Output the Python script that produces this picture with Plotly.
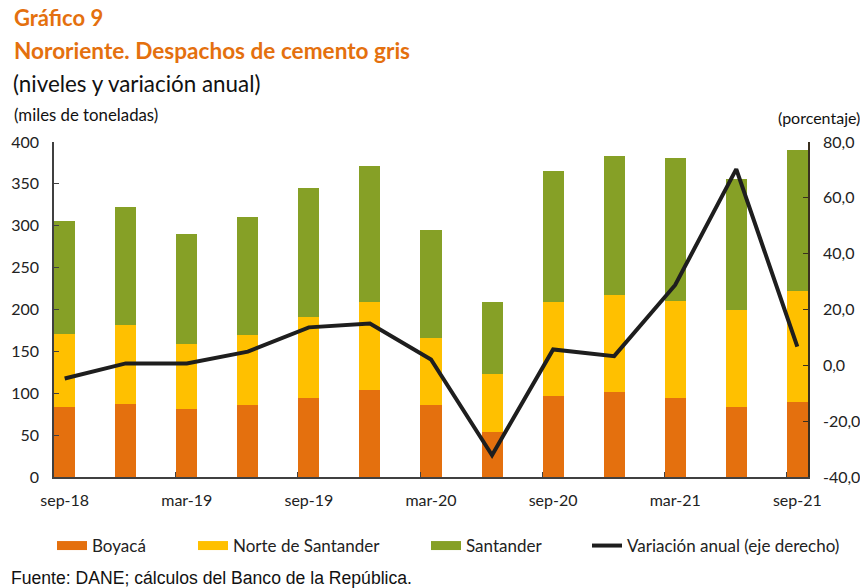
import plotly.graph_objects as go

fechas = ["sep-18", "dic-18", "mar-19", "jun-19", "sep-19", "dic-19", "mar-20",
          "jun-20", "sep-20", "dic-20", "mar-21", "jun-21", "sep-21"]
boyaca = [83.7, 87.7, 81.4, 85.7, 94.5, 104.1, 85.7, 53.8, 96.9, 101.7, 94.5, 83.7, 90.1]
norte_santander = [86.6, 93.8, 77.3, 84.2, 96.1, 104.5, 79.8, 68.6, 111.7, 116.0, 116.1, 115.7, 132.0]
santander = [135.6, 140.7, 131.6, 140.8, 154.4, 163.1, 129.6, 86.2, 156.3, 165.5, 170.3, 156.7, 167.9]
variacion = [-4.7, 0.7, 0.7, 4.9, 13.6, 15.0, 2.1, -32.2, 5.7, 3.3, 28.8, 70.3, 6.7]
etiquetas_x = ["sep-18", "mar-19", "sep-19", "mar-20", "sep-20", "mar-21", "sep-21"]
valores_der = [-40, -20, 0, 20, 40, 60, 80]
etiquetas_der = ["-40,0", "-20,0", "0,0", "20,0", "40,0", "60,0", "80,0"]

# page body has an 8px margin: compensate so that screen pixels match
OFF = 8
W, H = 868 - OFF, 588 - OFF
L, T = 54 - OFF, 142 - OFF
R = W - (808 - OFF)
B = H - (477 - OFF)
PW, PH = W - L - R, H - T - B

def px(x):
    return (x - OFF - L) / PW

def py(y):
    return (H - B - (y - OFF)) / PH

idx = list(range(len(fechas)))
naranja, amarillo, verde = "#E4700E", "#FFC000", "#86A026"
fuente = "Lato, 'Open Sans', sans-serif"

series = [("Boyacá", boyaca, naranja, 92),
          ("Norte de Santander", norte_santander, amarillo, 233),
          ("Santander", santander, verde, 466)]

fig = go.Figure()
for k, (nombre, vals, col, _) in enumerate(series):
    fig.add_trace(go.Bar(x=idx, y=vals, name=nombre, marker=dict(color=col, line=dict(width=0)),
                         width=0.345, showlegend=False, yaxis="y"))
for k, (nombre, vals, col, _) in enumerate(series):
    fig.add_trace(go.Scatter(x=[None], y=[None], mode="lines", name=nombre,
                             line=dict(color=col, width=9), yaxis="y",
                             legend="legend" if k == 0 else "legend%d" % (k + 1)))

fig.add_trace(go.Scatter(x=idx, y=variacion, mode="lines", name="Variación anual (eje derecho)",
                         line=dict(color="#1e1e1e", width=4), yaxis="y2", legend="legend4"))

def leg(text_x):
    return dict(orientation="h", x=px(text_x - 40), y=py(546), xanchor="left", yanchor="middle",
                font=dict(size=17, color="#222222", family=fuente), bgcolor="rgba(0,0,0,0)",
                itemwidth=30)

fig.update_layout(
    width=W, height=H,
    margin=dict(l=L, r=R, t=T, b=B, autoexpand=False),
    paper_bgcolor="white", plot_bgcolor="white",
    separators=",.",
    barmode="stack",
    font=dict(family=fuente, color="#222222", size=16),
    xaxis=dict(range=[-0.175, 12.175], tickmode="array",
               tickvals=[i for i in idx if i % 2 == 0], ticktext=etiquetas_x,
               ticks="", showgrid=False, zeroline=False, showline=True,
               linecolor="#404040", linewidth=1.5, ticklabelstandoff=8,
               tickfont=dict(size=16, color="#222222"),
               minor=dict(tickmode="array", tickvals=[-0.18 + 2 * k for k in range(7)],
                          ticks="inside", ticklen=5, tickcolor="#404040", showgrid=False)),
    yaxis=dict(range=[0, 400], dtick=50, ticks="inside", ticklen=5, tickcolor="#404040",
               showgrid=False, zeroline=False, showline=True, linecolor="#404040",
               linewidth=1.5, ticklabelstandoff=10, tickfont=dict(size=16, color="#222222")),
    yaxis2=dict(range=[-40, 80], tickmode="array", tickvals=valores_der, ticktext=etiquetas_der,
                overlaying="y", side="right",
                ticks="inside", ticklen=5, tickcolor="#3a3020", showgrid=False, zeroline=False,
                showline=True, linecolor="#3a3020", linewidth=1.5, ticklabelstandoff=10,
                tickfont=dict(size=16, color="#222222")),
    legend=leg(series[0][3]),
    legend2=leg(series[1][3]),
    legend3=leg(series[2][3]),
    legend4=leg(627),
)

anns = [
    dict(text="<b>Gráfico 9</b>", x=px(12), y=py(18), size=22, color="#E4700E"),
    dict(text="<b>Nororiente. Despachos de cemento gris</b>", x=px(12), y=py(50), size=22.6, color="#E4700E"),
    dict(text="(niveles y variación anual)", x=px(11), y=py(83), size=22.4, color="#111111"),
    dict(text="(miles de toneladas)", x=px(12), y=py(114), size=16.8, color="#111111"),
    dict(text="Fuente: DANE; cálculos del Banco de la República.", x=px(9), y=py(578), size=17.6,
         color="#111111", family="'Liberation Sans', Arial, sans-serif"),
]
for a in anns:
    fig.add_annotation(text=a["text"], xref="paper", yref="paper", x=a["x"], y=a["y"],
                       xanchor="left", yanchor="middle", showarrow=False,
                       font=dict(size=a["size"], color=a["color"], family=a.get("family", fuente)))
fig.add_annotation(text="(porcentaje)", xref="paper", yref="paper", x=px(862), y=py(118),
                   xanchor="right", yanchor="middle", showarrow=False,
                   font=dict(size=16, color="#111111", family=fuente))

fig.write_html("out.html")
